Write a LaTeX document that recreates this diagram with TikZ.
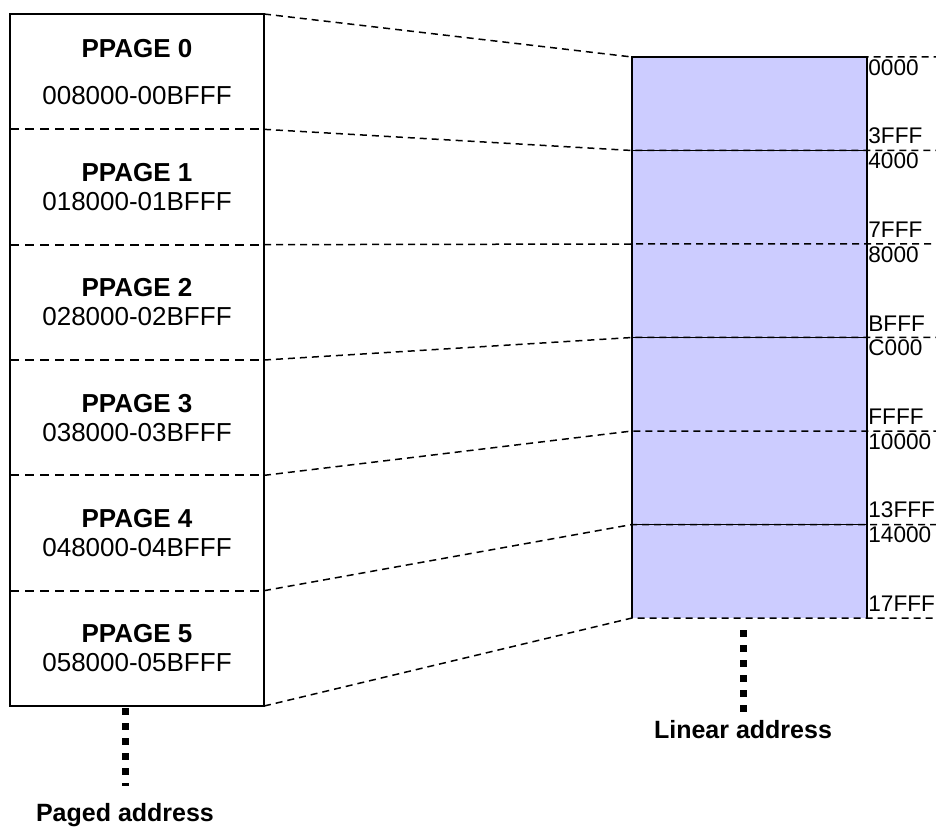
\documentclass[tikz,border=0pt]{standalone}
\usepackage{fontspec}
\setmainfont{Liberation Sans}
\usetikzlibrary{positioning, calc}

\definecolor{linfill}{RGB}{204,204,255}

\begin{document}
\begin{tikzpicture}[x=0.5pt, y=-0.5pt,
  every node/.style={font=\fontsize{13}{14.5}\selectfont},
  pagebox/.style={minimum width=127pt, minimum height=57.67pt, inner sep=0pt, outer sep=0pt, align=center},
  linbox/.style={fill=linfill, minimum width=117.5pt, minimum height=46.75pt, inner sep=0pt, outer sep=0pt},
  addrlbl/.style={font=\fontsize{11.3}{13}\selectfont, inner xsep=0.5pt},
  sep/.style={dash pattern=on 4.5pt off 3pt, line width=0.9pt},
  conn/.style={dash pattern=on 3.5pt off 2.5pt, line width=0.75pt},
  dotline/.style={line width=3.5pt, dash pattern=on 3.5pt off 4pt},
  caption/.style={font=\fontsize{12.5}{14}\selectfont\bfseries}]
  \useasboundingbox (0,0) rectangle (936,828);
  \clip (0,0) rectangle (936,828);

  % paged window
  \node[pagebox, anchor=north west] (page0) at (10,14) {\textbf{PPAGE 0}\\[9pt]008000-00BFFF};
  \foreach \i in {1,...,5} {
    \pgfmathtruncatemacro\prev{\i-1}
    \node[pagebox, below=0pt of page\prev] (page\i) {\textbf{PPAGE \i}\\0\i8000-0\i BFFF};
  }

  % linear space
  \node[linbox, anchor=north west] (lin0) at (632,57) {};
  \foreach \i in {1,...,5} {
    \pgfmathtruncatemacro\prev{\i-1}
    \node[linbox, below=0pt of lin\prev] (lin\i) {};
  }
  \foreach \i/\lo/\hi in {0/0000/3FFF, 1/4000/7FFF, 2/8000/BFFF, 3/C000/FFFF, 4/10000/13FFF, 5/14000/17FFF} {
    \node[addrlbl, anchor=north west, inner ysep=1pt] (lo\i) at (lin\i.north east) {\lo};
    \node[addrlbl, anchor=south west, inner ysep=3pt] (hi\i) at (lin\i.south east) {\hi};
  }

  % borders
  \foreach \i in {0,...,4} \draw[sep] (page\i.south west) -- (page\i.south east);
  \draw[line width=1pt] (page0.north west) rectangle (page5.south east);
  \foreach \i in {0,2,4} \draw[line width=0.75pt] (lin\i.south west) -- (lin\i.south east);
  \draw[line width=0.75pt] (lin5.south west) -- (lin0.north west) -- (lin0.north east) -- (lin5.south east);

  % mapping
  \foreach \i in {0,...,5}
    \draw[conn] (page\i.north east) -- (lin\i.north west) -- (lin\i.north east) -- ++(80,0);
  \draw[conn] (page5.south east) -- (lin5.south west) -- (lin5.south east) -- ++(80,0);

  % captions
  \coordinate (pagedtop) at (125,706);
  \node[caption] (pagedlbl) at (125,815) {Paged address};
  \draw[dotline, shorten <=1pt, shorten >=5pt] (pagedtop) -- (pagedlbl.north);
  \coordinate (lintop) at (743,618);
  \node[caption] (linlbl) at (743,730) {Linear address};
  \draw[dotline, shorten <=6pt] (lintop) -- (linlbl.north);
\end{tikzpicture}
\end{document}
